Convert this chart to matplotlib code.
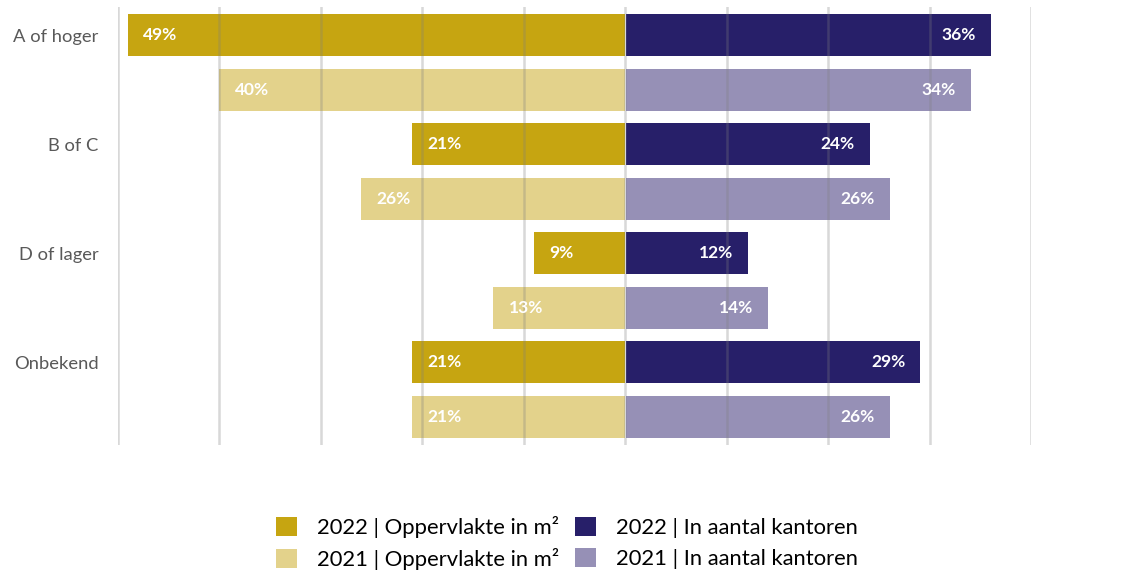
import numpy as np
import matplotlib.pyplot as plt

categorieen = ["A of hoger", "B of C", "D of lager", "Onbekend"]
opp_2022 = [49, 21, 9, 21]
opp_2021 = [40, 26, 13, 21]
kant_2022 = [36, 24, 12, 29]
kant_2021 = [34, 26, 14, 26]

goud = "#C6A511"
goud_licht = "#E3D28B"
paars = "#271F69"
paars_licht = "#9690B6"

plt.rcParams['font.family'] = ['Lato', 'DejaVu Sans']

fig = plt.figure(figsize=(11.27, 5.73), dpi=100)
ax = fig.add_axes([0.1047, 0.2234, 0.8101, 0.7644])

n = len(categorieen)
y22 = np.arange(n) * 2
y21 = y22 + 1
h = 0.77

b1 = ax.barh(y22, [-v for v in opp_2022], height=h, color=goud, zorder=2,
             label="2022 | Oppervlakte in m²")
b2 = ax.barh(y21, [-v for v in opp_2021], height=h, color=goud_licht, zorder=2,
             label="2021 | Oppervlakte in m²")
b3 = ax.barh(y22, kant_2022, left=0.1, height=h, color=paars, zorder=2,
             label="2022 | In aantal kantoren")
b4 = ax.barh(y21, kant_2021, left=0.1, height=h, color=paars_licht, zorder=2,
             label="2021 | In aantal kantoren")

# percentages in de balken
for ys, vals in ((y22, opp_2022), (y21, opp_2021)):
    for y, v in zip(ys, vals):
        ax.text(-v + 1.5, y, f"{v}%", ha="left", va="center", color="white",
                fontsize=12.5, fontweight="bold", zorder=4)
for ys, vals in ((y22, kant_2022), (y21, kant_2021)):
    for y, v in zip(ys, vals):
        ax.text(v - 1.4, y, f"{v}%", ha="right", va="center", color="white",
                fontsize=12.5, fontweight="bold", zorder=4)

# verticale rasterlijnen over de balken heen
for x in range(-50, 41, 10):
    ax.axvline(x, color="#7f7f7f", alpha=0.3, lw=1.8, zorder=3)

ax.set_xlim(-50, 40)
ax.set_ylim(2 * n - 1 + 0.52, -0.514)
ax.set_yticks(y22)
ax.set_yticklabels(categorieen, fontsize=13.2, color="#595959")
ax.tick_params(axis="y", length=0, pad=14)
ax.set_xticks([])
for s in ax.spines.values():
    s.set_visible(False)

fig.legend(handles=[b1, b2, b3, b4], ncol=2, loc="center",
           bbox_to_anchor=(0.503, 0.0524), frameon=False, fontsize=15.8,
           handlelength=0.96, handleheight=0.96, handletextpad=0.91,
           columnspacing=0.75, labelspacing=0.45, borderpad=0.2)

fig.savefig("out.png", dpi=100)
